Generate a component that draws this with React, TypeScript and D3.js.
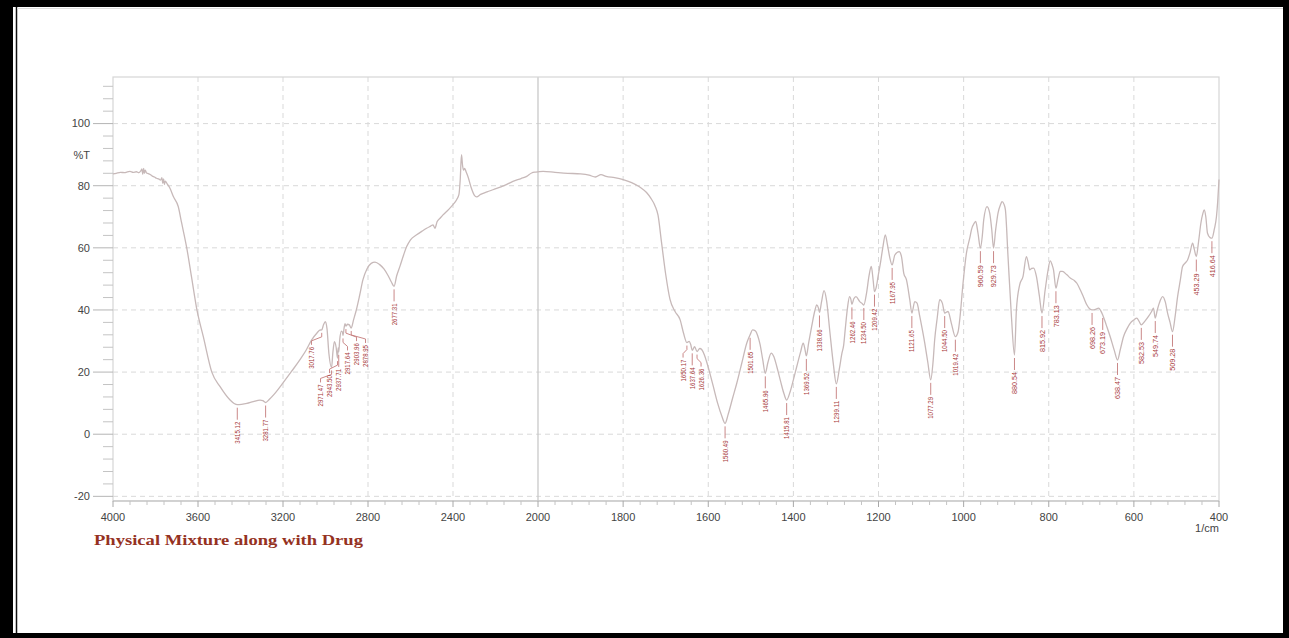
import React from "react";
import * as d3 from "d3";

// FTIR transmittance spectrum, wavenumber (cm⁻¹) descending
const wavenumbers: number[] = [
  4000, 3985, 3965, 3945, 3935, 3920, 3905, 3890, 3878, 3870, 3864, 3860, 3856, 3852, 3848, 3842,
  3834, 3825, 3815, 3805, 3795, 3785, 3776, 3770, 3766, 3762, 3758, 3754, 3745, 3732, 3716, 3693,
  3677, 3653, 3629, 3605, 3575, 3535, 3496, 3449, 3430, 3415.12, 3395, 3370, 3340, 3308, 3295,
  3281.77, 3265, 3240, 3200, 3160, 3120, 3090, 3065, 3040, 3027, 3017.76, 3009, 3001, 2993, 2984,
  2971.47, 2965, 2958, 2950, 2943.5, 2940.5, 2937.71, 2933, 2925, 2920, 2917.64, 2912, 2908,
  2903.96, 2896, 2888, 2878.95, 2868, 2855, 2840, 2824, 2805, 2785, 2767, 2745, 2725, 2705, 2690,
  2677.31, 2665, 2649, 2632, 2618, 2600, 2571, 2545, 2524, 2505, 2494, 2485, 2475, 2460, 2447,
  2420, 2400, 2383, 2372, 2366, 2360, 2355, 2350, 2345, 2338, 2329, 2315, 2300, 2289, 2270, 2240,
  2212, 2160, 2118, 2080, 2053, 2030, 2010, 1988, 1960, 1930, 1900, 1880, 1865, 1852, 1840, 1820,
  1800, 1780, 1760, 1745, 1735, 1725, 1718, 1710, 1700, 1690, 1678, 1666, 1658, 1650.17, 1645,
  1641, 1637.64, 1632, 1626.36, 1620, 1615, 1609, 1604, 1596, 1588, 1578, 1568, 1560.49, 1553,
  1543, 1533, 1521, 1509.6, 1501.65, 1496, 1489, 1484, 1478.4, 1472, 1465.96, 1460, 1452, 1446,
  1439, 1430, 1422, 1415.81, 1408, 1400, 1392, 1383, 1377, 1373, 1369.52, 1364, 1357, 1350, 1345,
  1341, 1338.66, 1334, 1328, 1322, 1314, 1306, 1299.11, 1292, 1286, 1282, 1278, 1273, 1268, 1265,
  1262.46, 1258, 1253, 1244, 1238, 1234.5, 1228, 1222.5, 1217, 1212.5, 1209.42, 1205, 1201, 1195,
  1189.5, 1184, 1179, 1174, 1167.95, 1161.6, 1151.5, 1146, 1140.6, 1134.3, 1126.5, 1121.65,
  1114.8, 1109.4, 1103, 1091.3, 1084, 1077.29, 1072, 1068, 1062, 1056.2, 1050, 1044.5, 1036.7,
  1028.8, 1019.42, 1013, 1009.2, 1001.4, 993.4, 985, 981.7, 975, 971.6, 966.2, 960.59, 956, 952.8,
  945, 938.7, 934, 929.73, 925, 919.2, 913, 909.8, 905, 901.8, 895.7, 887.7, 880.54, 876, 868.3,
  860.4, 852.6, 848, 844.8, 840, 835.4, 829, 822, 815.92, 808.4, 802, 796.7, 792, 788.8, 783.13,
  778, 773.1, 768, 757.4, 748.6, 740, 733.9, 726, 718, 710.3, 704, 698.26, 690, 683, 678, 673.19,
  665, 655.6, 646, 638.47, 632, 624.4, 616, 608.8, 600, 593, 588, 582.53, 574, 565.7, 558, 554,
  549.74, 545, 540.3, 532.5, 526, 520.8, 515, 509.28, 503, 497.3, 491, 485.6, 479, 473.9, 468,
  462.1, 458, 453.29, 448, 442.5, 438, 434.7, 431, 427, 421, 416.64, 411, 406, 403, 400,
];

const transmittance: number[] = [
  83.8, 84.0, 84.3, 84.2, 84.4, 84.6, 84.3, 84.5, 84.2, 84.7, 85.4, 83.7, 85.6, 84.0, 85.0, 84.1,
  83.9, 83.6, 83.1, 82.8, 82.4, 82.2, 81.8, 82.6, 80.8, 82.2, 80.4, 81.5, 80.6, 79.2, 76.5, 73.3,
  68.0, 60.0, 50.0, 40.0, 31.4, 20.0, 15.3, 11.0, 9.9, 9.5, 9.6, 9.9, 10.5, 11.0, 10.8,
  10.2, 11.2, 13.0, 16.5, 20.2, 24.0, 27.2, 30.4, 32.6, 33.5, 33.6, 35.3, 36.2, 34.0, 26.0,
  21.5, 26.5, 29.8, 28.0, 24.5, 27.8, 26.5, 30.5, 33.2, 32.8, 31.8, 34.4, 35.6,
  34.8, 35.4, 35.2, 34.2, 36.8, 40.0, 44.5, 49.7, 53.2, 55.0, 55.4, 54.6, 53.2, 51.0, 49.0,
  47.6, 51.0, 54.2, 57.8, 60.4, 62.6, 64.2, 65.4, 66.3, 67.0, 67.4, 66.3, 68.4, 69.6, 70.6,
  72.4, 73.9, 75.5, 77.2, 82.0, 90.0, 86.5, 85.0, 85.6, 84.4, 82.8, 79.5, 77.0, 76.4, 77.2, 78.0,
  78.7, 80.0, 81.4, 82.3, 83.0, 84.1, 84.4, 84.6, 84.3, 84.0, 83.8, 83.4, 82.8, 83.6, 83.0, 82.6,
  82.0, 81.0, 79.5, 77.8, 76.0, 73.5, 70.5, 62.0, 51.5, 43.5, 39.5, 36.8, 32.5, 29.5, 29.9,
  28.8, 27.0, 28.2, 26.6, 27.6, 27.2, 25.5, 23.4, 19.5, 15.3, 10.0, 5.8, 3.5, 6.5,
  11.5, 16.4, 23.0, 29.3, 32.0, 33.6, 33.2, 31.8, 29.0, 24.0, 19.6, 23.0, 26.1, 25.0,
  21.8, 17.0, 13.0, 11.0, 13.5, 17.5, 21.8, 26.5, 29.3, 27.5, 25.2, 29.5, 34.7, 39.5, 41.6,
  40.6, 39.2, 42.5, 46.2, 43.0, 32.6, 22.5, 16.2, 21.0, 26.0, 28.5, 34.0, 40.5, 44.3, 43.5,
  41.8, 43.6, 44.3, 42.7, 42.0, 41.6, 45.5, 50.8, 54.0, 49.5, 45.9, 47.5, 50.8, 55.5,
  60.4, 64.2, 61.0, 57.2, 54.5, 57.7, 58.8, 57.2, 51.8, 49.7, 43.3, 39.0,
  42.7, 42.2, 37.9, 29.3, 23.0, 17.5, 23.0, 30.4, 37.5, 43.3, 42.2, 39.0, 39.5,
  35.7, 31.4, 33.0, 36.8, 48.6, 58.3, 63.5, 65.8, 68.0, 68.5, 64.7, 59.9, 64.0, 69.0,
  73.3, 71.2, 66.0, 59.9, 65.5, 71.2, 74.0, 74.9, 74.0, 72.2, 57.2, 37.9, 25.5, 40.0, 48.1,
  50.8, 57.2, 55.0, 52.9, 53.4, 53.5, 50.8, 44.5, 39.0, 46.5, 52.5, 55.8, 54.5, 52.9, 47.0,
  50.0, 52.4, 52.4, 51.3, 50.2, 49.5, 48.6, 46.5, 44.0, 41.6, 40.4, 40.0, 40.2, 40.6, 39.8, 38.4,
  35.2, 31.4, 27.0, 23.9, 27.2, 31.4, 34.0, 35.7, 36.8, 37.4, 36.4, 35.2, 36.4, 37.9, 39.6, 40.6,
  37.4, 40.0, 42.2, 44.3, 42.5, 39.0, 36.0, 33.0, 38.0, 44.3, 49.5, 54.0, 55.2, 56.1, 58.5,
  61.5, 59.5, 57.2, 62.0, 68.0, 71.0, 72.2, 70.0, 64.7, 63.3, 63.1, 66.0, 70.0, 75.0, 82.0,
];

// Picked band positions (cm⁻¹)
const peakLabels: number[] = [
  3415.12, 3281.77, 3017.76, 2971.47, 2943.5, 2937.71, 2917.64, 2903.96, 2878.95, 2677.31,
  1650.17, 1637.64, 1626.36, 1560.49, 1501.65, 1465.96, 1415.81, 1369.52, 1338.66, 1299.11,
  1262.46, 1234.5, 1209.42, 1167.95, 1121.65, 1077.29, 1044.5, 1019.42, 960.59, 929.73, 880.54,
  815.92, 783.13, 698.26, 673.19, 638.47, 582.53, 549.74, 509.28, 453.29, 416.64,
];

const xTickValues: number[] = [4000, 3600, 3200, 2800, 2400, 2000, 1800, 1600, 1400, 1200, 1000, 800, 600, 400];
const yTickValues: number[] = [-20, 0, 20, 40, 60, 80, 100];
const yUnitLabel = "%T";
const xUnitLabel = "1/cm";
const titleText = "Physical Mixture along with Drug";

const W = 1289;
const H = 638;
const left = 113;
const right = 1219;
const mid = 538;
const top = 77;
const bottom = 501;

const axisFont = "'Liberation Sans', Arial, Helvetica, sans-serif";
const labelFont = "'Liberation Sans Narrow', 'Arial Narrow', 'Liberation Sans', sans-serif";
const labelColor = "#a83b3b";
const leaderColor = "#c47a7a";
const gridColor = "#d9d9d9";

function valueAt(w: number): number {
  for (let i = 0; i < wavenumbers.length - 1; i++) {
    const a = wavenumbers[i];
    const b = wavenumbers[i + 1];
    if (w <= a && w >= b) {
      const t = (a - w) / (a - b);
      return transmittance[i] + t * (transmittance[i + 1] - transmittance[i]);
    }
  }
  return transmittance[transmittance.length - 1];
}

// Push overlapping labels apart, keeping each crowded group centred on its bands
function spread(xs: number[], gap: number): number[] {
  let cl = xs.map((v) => ({ n: 1, sum: v }));
  let merged = true;
  while (merged) {
    merged = false;
    for (let i = 1; i < cl.length; i++) {
      const a = cl[i - 1];
      const b = cl[i];
      const aEnd = a.sum / a.n + ((a.n - 1) * gap) / 2;
      const bStart = b.sum / b.n - ((b.n - 1) * gap) / 2;
      if (bStart - aEnd < gap - 1e-6) {
        cl.splice(i - 1, 2, { n: a.n + b.n, sum: a.sum + b.sum });
        merged = true;
        break;
      }
    }
  }
  const out: number[] = [];
  cl.forEach((c) => {
    const s = c.sum / c.n - ((c.n - 1) * gap) / 2;
    for (let k = 0; k < c.n; k++) out.push(s + k * gap);
  });
  return out;
}

export default function App() {
  const x = d3.scaleLinear().domain([4000, 2000, 400]).range([left, mid, right]);
  const y = d3.scaleLinear().domain([-21.5, 115]).range([bottom, top]);

  const pts: [number, number][] = wavenumbers.map((w, i) => [w, transmittance[i]]);
  const line = d3
    .line<[number, number]>()
    .x((d) => x(d[0]))
    .y((d) => y(d[1]))
    .curve(d3.curveMonotoneX);

  const minorY = d3.range(-20, 113, 4).filter((v) => v % 20 !== 0);
  const minorX = [
    ...d3.range(4000, 2000, -80).filter((v) => v % 400 !== 0),
    ...d3.range(2000, 400, -40).filter((v) => v % 200 !== 0),
  ];

  const desired = peakLabels.map((w) => x(w));
  const placed = spread(desired, 9);

  return (
    <svg
      width={W}
      height={H}
      viewBox={`0 0 ${W} ${H}`}
      style={{ position: "absolute", left: 0, top: 0, display: "block" }}
    >
      {/* page frame */}
      <rect x={0} y={0} width={W} height={H} fill="#000" />
      <rect x={13} y={7} width={1270} height={626} fill="#fff" />
      <line x1={16.5} y1={7} x2={16.5} y2={633} stroke="#111" strokeWidth={1.5} />
      <line x1={17} y1={8.5} x2={1283} y2={8.5} stroke="#ddd" strokeWidth={1} />

      {/* grid */}
      {yTickValues.map((v) => (
        <line key={`gy${v}`} x1={left} x2={right} y1={y(v)} y2={y(v)} stroke={gridColor} strokeDasharray="5,4" />
      ))}
      {xTickValues
        .filter((v) => v !== 4000 && v !== 400 && v !== 2000)
        .map((v) => (
          <line key={`gx${v}`} x1={x(v)} x2={x(v)} y1={top} y2={bottom} stroke={gridColor} strokeDasharray="5,4" />
        ))}
      <line x1={x(2000)} x2={x(2000)} y1={top} y2={bottom} stroke="#c4c4c4" strokeWidth={1.2} />

      {/* plot border */}
      <rect x={left} y={top} width={right - left} height={bottom - top} fill="none" stroke="#d6d6d6" strokeWidth={1.2} />

      {/* y axis */}
      {yTickValues.map((v) => (
        <g key={`ty${v}`}>
          <line x1={left - 20} x2={left} y1={y(v)} y2={y(v)} stroke="#b5b5b5" />
          <text x={90} y={y(v)} dy="0.35em" textAnchor="end" fontFamily={axisFont} fontSize={11} fill="#444">
            {v}
          </text>
        </g>
      ))}
      {minorY.map((v) => (
        <line key={`my${v}`} x1={left - 10} x2={left} y1={y(v)} y2={y(v)} stroke="#c4c4c4" />
      ))}
      <text x={90} y={y(89.8)} dy="0.35em" textAnchor="end" fontFamily={axisFont} fontSize={11} fill="#444">
        {yUnitLabel}
      </text>

      {/* x axis */}
      <line x1={left} x2={right} y1={bottom} y2={bottom} stroke="#bdbdbd" />
      {xTickValues.map((v) => (
        <g key={`tx${v}`}>
          <line x1={x(v)} x2={x(v)} y1={bottom} y2={bottom + 6} stroke="#a8a8a8" />
          <text x={x(v)} y={bottom + 16} dy="0.35em" textAnchor="middle" fontFamily={axisFont} fontSize={11} fill="#444">
            {v}
          </text>
        </g>
      ))}
      {minorX.map((v) => (
        <line key={`mx${v}`} x1={x(v)} x2={x(v)} y1={bottom} y2={bottom + 4} stroke="#c4c4c4" />
      ))}
      <text x={x(400) - 12} y={bottom + 27} dy="0.35em" textAnchor="middle" fontFamily={axisFont} fontSize={11} fill="#444">
        {xUnitLabel}
      </text>

      {/* spectrum */}
      <path d={line(pts) || ""} fill="none" stroke="#c7b9b9" strokeWidth={1.3} strokeLinejoin="round" />

      {/* band labels */}
      {peakLabels.map((w, i) => {
        const x0 = desired[i];
        const xl = placed[i];
        const yp = y(valueAt(w));
        const d =
          Math.abs(xl - x0) < 0.5
            ? `M${x0},${yp + 3}V${yp + 15}`
            : `M${x0},${yp + 3}V${yp + 7}L${xl},${yp + 11}V${yp + 15}`;
        const ty = yp + 17;
        return (
          <g key={`pk${w}`}>
            <path d={d} fill="none" stroke={leaderColor} strokeWidth={0.9} />
            <text
              x={xl}
              y={ty}
              dy="0.35em"
              transform={`rotate(-90 ${xl} ${ty})`}
              textAnchor="end"
              fontFamily={labelFont}
              fontSize={7.5}
              textLength={22}
              lengthAdjust="spacingAndGlyphs"
              fill={labelColor}
            >
              {w.toFixed(2)}
            </text>
          </g>
        );
      })}

      {/* title */}
      <text
        x={94}
        y={545}
        fontFamily="'Liberation Serif', 'Times New Roman', serif"
        fontWeight="bold"
        fontSize={15}
        textLength={269}
        lengthAdjust="spacingAndGlyphs"
        fill="#95321f"
      >
        {titleText}
      </text>
    </svg>
  );
}
